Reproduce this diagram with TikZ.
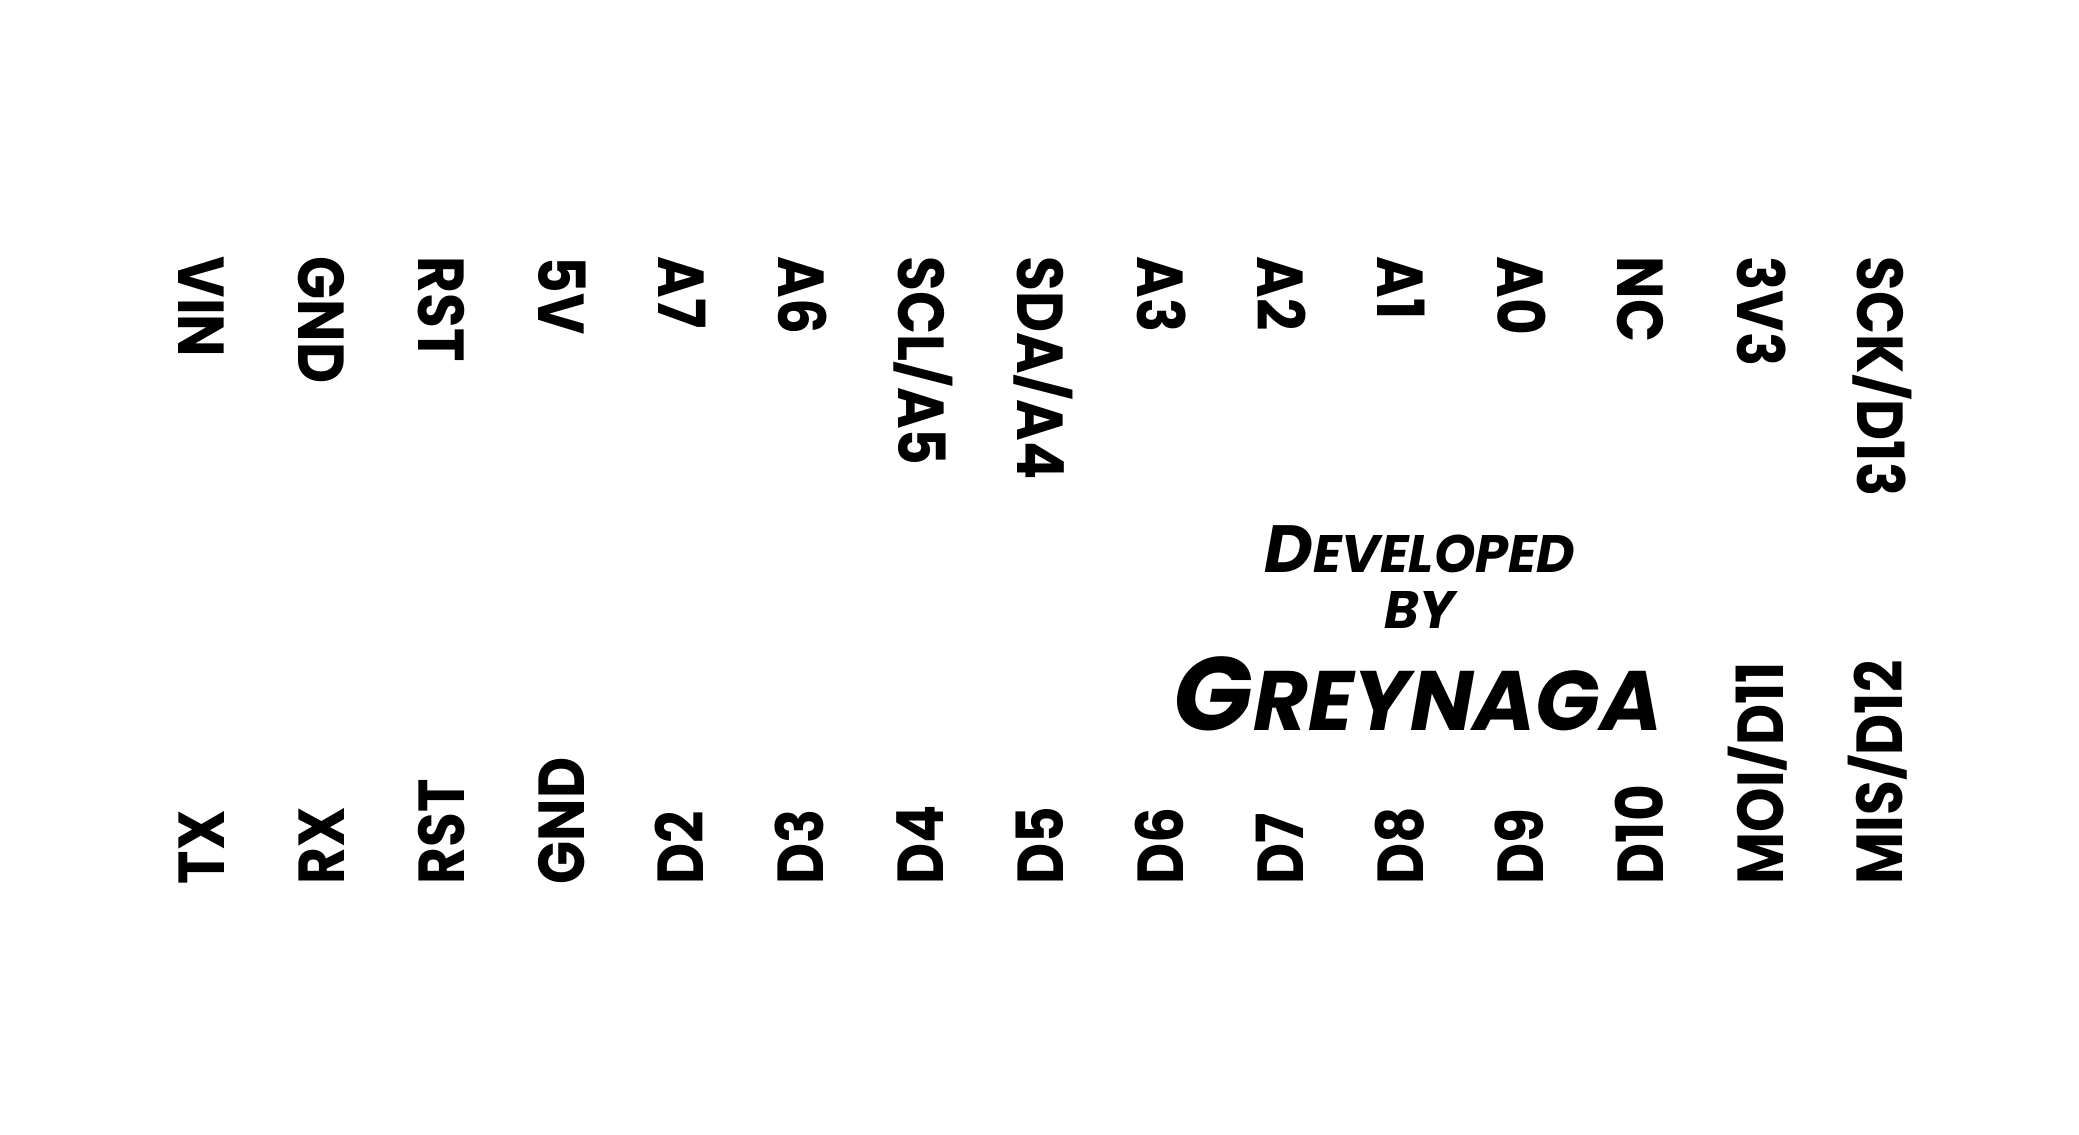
\documentclass[tikz,border=0pt]{standalone}
\usepackage{graphicx}
\usepackage{fontspec}
\newfontfamily\pins{Poppins}[FakeStretch=0.87]
\newfontfamily\brushfont{Poppins}
\newcommand\pinslash{\raisebox{1.6pt}{\scalebox{1}[0.8]{/}}}
\begin{document}
\begin{tikzpicture}[
  pin/.style={font=\pins\bfseries\fontsize{18.5}{20}\selectfont, inner sep=0pt, text height=13pt, text depth=0pt, anchor=west},
  toppin/.style={pin, rotate=-90},
  botpin/.style={pin, rotate=90},
  brush/.style={font=\brushfont\bfseries\itshape, inner sep=0pt, anchor=base}
]
\useasboundingbox (0,0) rectangle (20.79,-11.34);
\foreach \t [count=\i] in {VIN,GND,RST,5V,A7,A6,SCL\pinslash A5,SDA\pinslash A4,A3,A2,A1,A0,NC,3V3,SCK\pinslash D13}{
  \node[toppin] (t\i) at ({2.015+(\i-1)*1.199},-2.56) {\t};
}
\foreach \t [count=\i] in {TX,RX,RST,GND,D2,D3,D4,D5,D6,D7,D8,D9,D10,MOI\pinslash D11,MIS\pinslash D12}{
  \node[botpin] (b\i) at ({2.015+(\i-1)*1.199},-8.85) {\t};
}
\node[brush] (dev) at (14.2,-5.72) {\fontsize{19}{20}\selectfont D\fontsize{15}{16}\selectfont EVELOPED};
\node[brush] (by) at (14.2,-6.28) {\fontsize{15}{16}\selectfont BY};
\node[brush] (grey) at (14.18,-7.3) {\fontsize{29.6}{30}\selectfont G\fontsize{24}{25}\selectfont REYNAGA};
\end{tikzpicture}
\end{document}
